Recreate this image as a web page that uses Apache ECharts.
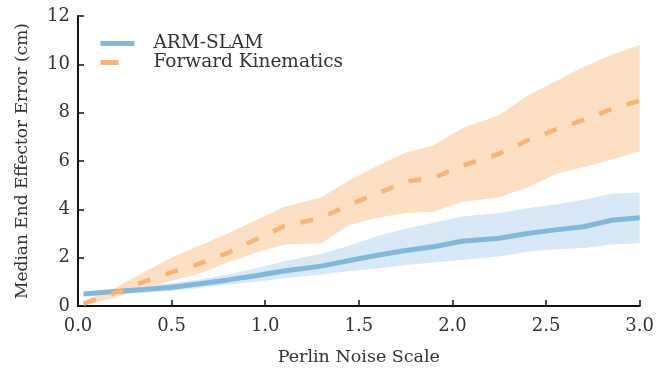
<!DOCTYPE html>
<html>
<head>
<meta charset="utf-8">
<script src="https://cdn.jsdelivr.net/npm/echarts@6/dist/echarts.min.js"></script>
<style>
  html, body { margin: 0; padding: 0; background: #fff; }
  #chart { width: 657px; height: 371px; }
</style>
</head>
<body>
<div id="chart"></div>
<script>
// noise scale samples
var noiseX = [0.03, 0.2, 0.35, 0.5, 0.65, 0.8, 0.95, 1.1, 1.3, 1.45, 1.6, 1.75, 1.9, 2.05, 2.25, 2.4, 2.55, 2.7, 2.85, 3.0];

// ARM-SLAM median + band
var slamMid = [0.5, 0.6, 0.68, 0.78, 0.92, 1.08, 1.25, 1.45, 1.65, 1.88, 2.1, 2.3, 2.45, 2.68, 2.8, 3.0, 3.15, 3.28, 3.55, 3.65];
var slamUp  = [0.6, 0.7, 0.8, 0.95, 1.1, 1.3, 1.55, 1.85, 2.15, 2.5, 2.9, 3.2, 3.45, 3.7, 3.85, 4.05, 4.2, 4.4, 4.65, 4.7];
var slamLo  = [0.4, 0.5, 0.55, 0.62, 0.75, 0.88, 1.0, 1.15, 1.3, 1.45, 1.55, 1.7, 1.8, 1.9, 2.05, 2.25, 2.35, 2.4, 2.55, 2.6];

// Forward kinematics median + band
var fkMid = [0.1, 0.55, 1.0, 1.4, 1.75, 2.2, 2.75, 3.3, 3.65, 4.2, 4.65, 5.15, 5.3, 5.8, 6.3, 6.85, 7.3, 7.7, 8.15, 8.5];
var fkUp  = [0.2, 0.75, 1.4, 2.0, 2.5, 3.0, 3.55, 4.1, 4.5, 5.2, 5.8, 6.35, 6.65, 7.35, 7.9, 8.7, 9.3, 9.9, 10.4, 10.8];
var fkLo  = [0.02, 0.35, 0.7, 1.05, 1.35, 1.8, 2.2, 2.55, 2.6, 3.35, 3.65, 3.85, 3.9, 4.3, 4.5, 4.9, 5.45, 5.75, 6.05, 6.4];

function pairs(ys) {
  return noiseX.map(function (x, i) { return [x, ys[i]]; });
}

// band polygon drawn through the axis scales
function band(up, lo, color) {
  return {
    type: "custom",
    silent: true,
    data: [[noiseX[0], up[0]]],
    renderItem: function (params, api) {
      var pts = [];
      for (var i = 0; i < noiseX.length; i++) pts.push(api.coord([noiseX[i], up[i]]));
      for (var j = noiseX.length - 1; j >= 0; j--) pts.push(api.coord([noiseX[j], lo[j]]));
      return { type: "polygon", shape: { points: pts }, style: { fill: color } };
    }
  };
}

var font = "DejaVu Serif";
var chart = echarts.init(document.getElementById("chart"));
chart.setOption({
  animation: false,
  textStyle: { fontFamily: font },
  grid: { left: 78, right: 14, top: 16, bottom: 64 },
  legend: {
    data: [
      { name: "ARM-SLAM", itemStyle: { opacity: 0 }, lineStyle: { type: [34, 80], width: 5 } },
      { name: "Forward Kinematics", itemStyle: { opacity: 0 }, lineStyle: { type: [18, 80], width: 5 } }
    ],
    orient: "vertical",
    left: 98,
    top: 34,
    padding: 0,
    itemWidth: 48,
    itemHeight: 5,
    itemGap: 0,
    textStyle: { fontFamily: font, fontSize: 18.5, color: "#333" }
  },
  xAxis: {
    type: "value",
    min: 0,
    max: 3,
    interval: 0.5,
    name: "Perlin Noise Scale",
    nameLocation: "middle",
    nameGap: 42,
    nameTextStyle: { fontFamily: font, fontSize: 17.5, color: "#333" },
    axisLine: { lineStyle: { color: "#111", width: 2 } },
    axisTick: { inside: true, length: 6, lineStyle: { color: "#111", width: 1.5 } },
    axisLabel: {
      fontFamily: font, fontSize: 18, color: "#333", margin: 11,
      formatter: function (v) { return v.toFixed(1); }
    },
    splitLine: { show: false }
  },
  yAxis: {
    type: "value",
    min: 0,
    max: 12,
    interval: 2,
    name: "Median End Effector Error (cm)",
    nameLocation: "middle",
    nameGap: 47,
    nameTextStyle: { fontFamily: font, fontSize: 17, color: "#333" },
    axisLine: { show: true, lineStyle: { color: "#111", width: 2 } },
    axisTick: { show: true, inside: true, length: 6, lineStyle: { color: "#111", width: 1.5 } },
    axisLabel: { fontFamily: font, fontSize: 18, color: "#333", margin: 8 },
    splitLine: { show: false }
  },
  series: [
    band(slamUp, slamLo, "#d8e8f6"),
    band(fkUp, fkLo, "rgba(253,220,188,0.88)"),
    {
      name: "ARM-SLAM", type: "line", data: pairs(slamMid),
      symbol: "none", itemStyle: { color: "#84b8d9" },
      lineStyle: { color: "#84b8d9", width: 5 }
    },
    {
      name: "Forward Kinematics", type: "line", data: pairs(fkMid),
      symbol: "none", itemStyle: { color: "#f6b476" },
      lineStyle: { color: "#f6b476", width: 4.5, type: [13, 16] }
    }
  ]
});
</script>
</body>
</html>
